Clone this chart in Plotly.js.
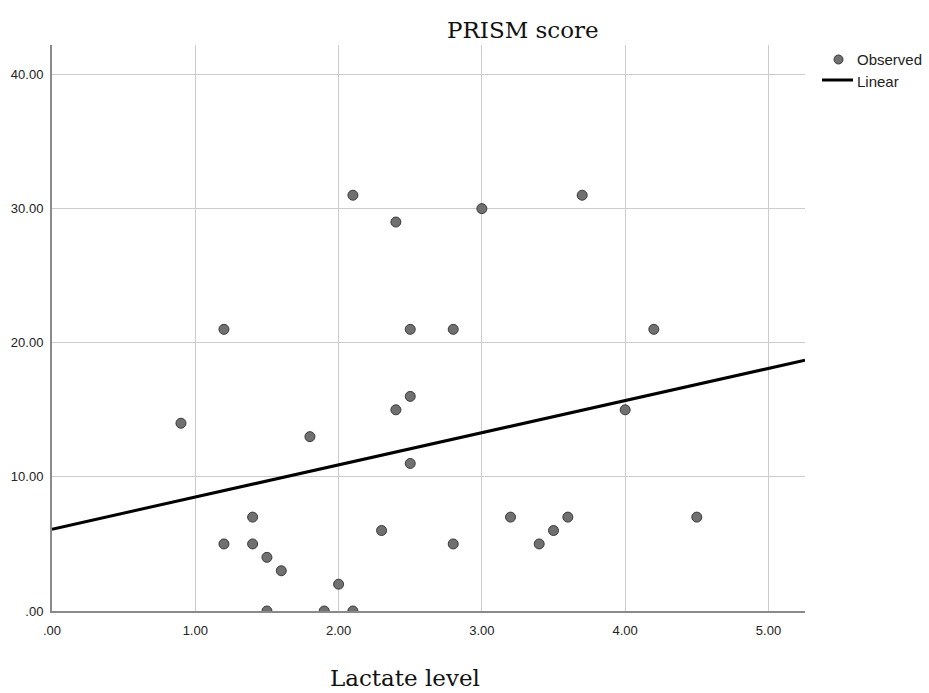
<!DOCTYPE html>
<html>
<head>
<meta charset="utf-8">
<script src="https://cdn.plot.ly/plotly-3.0.1.min.js"></script>
<style>html,body{margin:0;padding:0;background:#fff;}#chart{width:929px;height:693px;}</style>
</head>
<body>
<div id="chart"></div>
<script>
// Observed points (Lactate level, PRISM score)
const lactate = [0.9, 1.2, 1.2, 1.4, 1.4, 1.5, 1.5, 1.6, 1.8, 1.9, 2.0, 2.1, 2.1, 2.3, 2.4, 2.4, 2.5, 2.5, 2.5, 2.8, 2.8, 3.0, 3.2, 3.4, 3.5, 3.6, 3.7, 4.0, 4.2, 4.5];
const prism   = [14,  21,  5,   7,   5,   4,   0,   3,   13,  0,   2,   31,  0,   6,   29,  15,  21,  16,  11,  21,  5,   30,  7,   5,   6,   7,   31,  15,  21,  7];
// Linear fit line endpoints
const fitX = [0, 5.255];
const fitY = [6.1, 18.7];
// Tick labels
const xTickVals = [0, 1, 2, 3, 4, 5];
const xTickText = ['.00', '1.00', '2.00', '3.00', '4.00', '5.00'];
const yTickVals = [0, 10, 20, 30, 40];
const yTickText = ['.00', '10.00', '20.00', '30.00', '40.00'];

const traces = [
  {x: lactate, y: prism, type: 'scatter', mode: 'markers', name: 'Observed',
   marker: {size: 10, color: '#707070', line: {color: '#3a3a3a', width: 1}}, cliponaxis: true},
  {x: fitX, y: fitY, type: 'scatter', mode: 'lines', name: 'Linear',
   line: {color: '#000', width: 3}}
];

const px = v => (v - 52) / 753;
const py = v => (611 - v) / 566;

const layout = {
  width: 929, height: 693,
  margin: {l: 52, r: 124, t: 45, b: 82},
  paper_bgcolor: '#fff', plot_bgcolor: '#fff',
  showlegend: false,
  font: {family: 'Liberation Sans, Arial, sans-serif', size: 13, color: '#222'},
  xaxis: {range: [0, 5.255], tickvals: xTickVals, ticktext: xTickText,
          showgrid: true, gridcolor: '#cccccc', gridwidth: 1, zeroline: false,
          showline: true, linecolor: '#8a8a8a', linewidth: 2, ticks: '', ticklen: 0,
          ticklabelstandoff: 6,
          tickfont: {size: 13, color: '#222'}},
  yaxis: {range: [0, 42.2], tickvals: yTickVals, ticktext: yTickText,
          showgrid: true, gridcolor: '#cccccc', gridwidth: 1, zeroline: false,
          showline: true, linecolor: '#8a8a8a', linewidth: 2, ticks: '', ticklen: 0,
          ticklabelstandoff: 4,
          tickfont: {size: 13, color: '#222'}},
  shapes: [
    {type: 'circle', xref: 'paper', yref: 'paper',
     x0: px(834), x1: px(843), y0: py(64), y1: py(55),
     fillcolor: '#707070', line: {color: '#3a3a3a', width: 1}},
    {type: 'line', xref: 'paper', yref: 'paper',
     x0: px(822), x1: px(853), y0: py(80), y1: py(80),
     line: {color: '#000', width: 3}}
  ],
  annotations: [
    {text: 'PRISM score', xref: 'paper', yref: 'paper', x: px(523), y: py(30),
     xanchor: 'center', yanchor: 'middle', showarrow: false,
     font: {family: 'DejaVu Serif, serif', size: 23, color: '#111'}},
    {text: 'Lactate level', xref: 'paper', yref: 'paper', x: px(405), y: py(678),
     xanchor: 'center', yanchor: 'middle', showarrow: false,
     font: {family: 'DejaVu Serif, serif', size: 23, color: '#111'}},
    {text: 'Observed', xref: 'paper', yref: 'paper', x: px(855), y: py(60),
     xanchor: 'left', yanchor: 'middle', showarrow: false,
     font: {family: 'Liberation Sans, Arial, sans-serif', size: 15, color: '#222'}},
    {text: 'Linear', xref: 'paper', yref: 'paper', x: px(855), y: py(81),
     xanchor: 'left', yanchor: 'middle', showarrow: false,
     font: {family: 'Liberation Sans, Arial, sans-serif', size: 15, color: '#222'}}
  ]
};

Plotly.newPlot('chart', traces, layout, {displayModeBar: false, staticPlot: true});
</script>
</body>
</html>
